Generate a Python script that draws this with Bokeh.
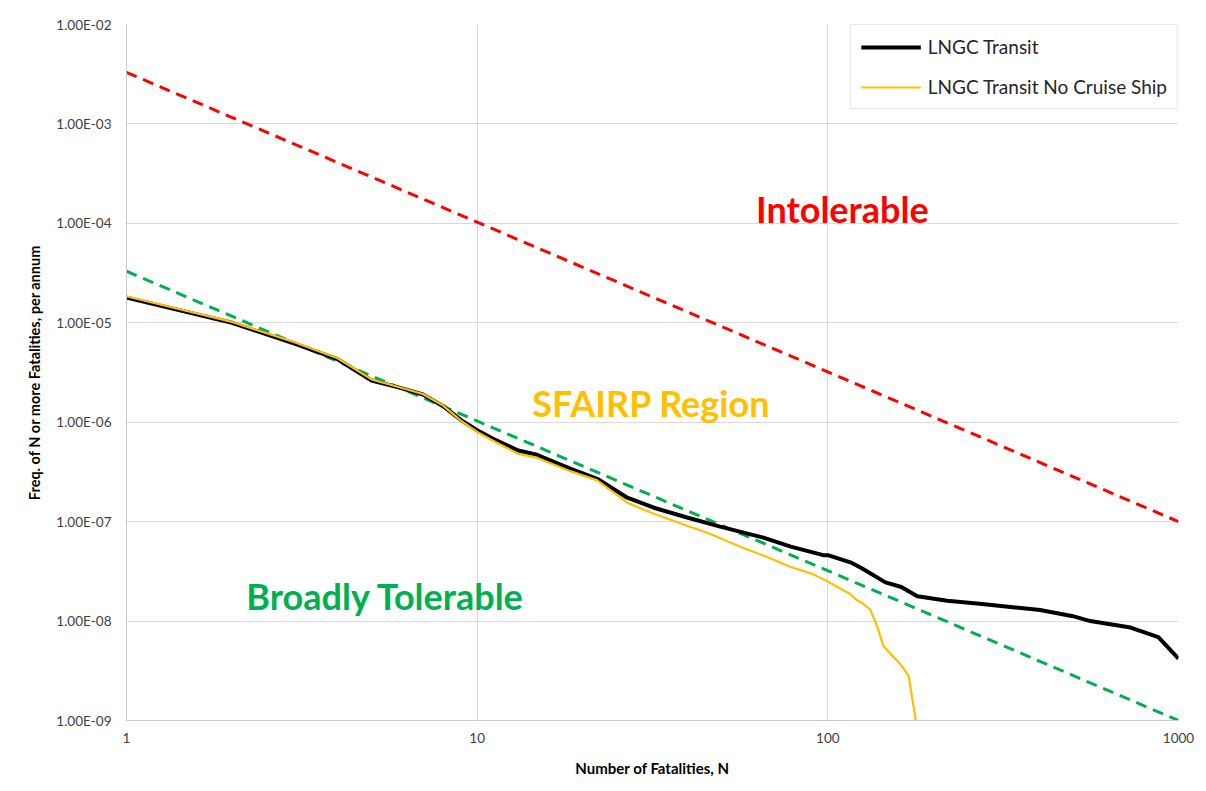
from bokeh.plotting import figure
from bokeh.models import Range1d, FixedTicker, CustomJSTickFormatter, Label, Legend, LegendItem
from bokeh.embed import file_html
from bokeh.resources import INLINE

# ---- data ----
black_n = [1, 2, 3, 4, 5, 6, 7, 8, 9, 10, 11.1, 13.1, 14.8, 18.5, 22, 26.8, 31.9, 39.7, 49.3,
           65.5, 78.4, 97, 100, 116, 125, 146, 162, 180, 219, 271, 337, 403, 500, 560, 730, 876, 1000]
black_f = [1.79e-5, 1.0e-5, 6.2e-6, 4.3e-6, 2.63e-6, 2.23e-6, 1.9e-6, 1.45e-6, 1.05e-6, 8.3e-7,
           6.8e-7, 5.2e-7, 4.7e-7, 3.4e-7, 2.7e-7, 1.74e-7, 1.38e-7, 1.1e-7, 8.9e-8, 6.9e-8, 5.6e-8,
           4.6e-8, 4.6e-8, 3.9e-8, 3.4e-8, 2.45e-8, 2.2e-8, 1.78e-8, 1.6e-8, 1.49e-8, 1.38e-8,
           1.29e-8, 1.12e-8, 1.0e-8, 8.6e-9, 6.9e-9, 4.2e-9]

yellow_n = [1, 2, 3, 4, 5, 6, 7, 8, 9, 10, 11.1, 13.1, 14.8, 18.5, 22, 26.8, 31.9, 39.7, 45.9,
            56.9, 65.3, 78.4, 90, 100, 116, 121, 126, 132, 139, 144, 150, 162, 170, 180]
yellow_f = [1.85e-5, 1.02e-5, 6.4e-6, 4.4e-6, 2.7e-6, 2.25e-6, 1.92e-6, 1.47e-6, 1.03e-6, 8.0e-7,
            6.5e-7, 4.8e-7, 4.4e-7, 3.2e-7, 2.6e-7, 1.55e-7, 1.2e-7, 9.1e-8, 7.6e-8, 5.5e-8,
            4.6e-8, 3.5e-8, 3.0e-8, 2.5e-8, 1.86e-8, 1.62e-8, 1.5e-8, 1.31e-8, 8.4e-9, 5.6e-9,
            4.8e-9, 3.6e-9, 2.8e-9, 8e-10]

red_n = [1, 1000]
red_f = [3.3e-3, 1.0e-7]
green_n = [1, 1000]
green_f = [3.3e-5, 1.0e-9]

x_ticks = [1, 10, 100, 1000]
y_ticks = [1e-9, 1e-8, 1e-7, 1e-6, 1e-5, 1e-4, 1e-3, 1e-2]

series_names = ["LNGC Transit", "LNGC Transit No Cruise Ship"]
region_labels = ["Intolerable", "SFAIRP Region", "Broadly Tolerable"]

FONT = "Lato"
GRID = "#D9D9D9"

p = figure(width=1198, height=783, x_axis_type="log", y_axis_type="log",
           x_range=Range1d(1, 1000), y_range=Range1d(1e-9, 1e-2),
           output_backend="svg", toolbar_location=None,
           min_border_left=126, min_border_right=20, min_border_top=24, min_border_bottom=63)
p.outline_line_color = None
p.background_fill_color = "white"
p.border_fill_color = "white"

# axes
p.xaxis.ticker = FixedTicker(ticks=x_ticks, minor_ticks=[])
p.yaxis.ticker = FixedTicker(ticks=y_ticks, minor_ticks=[])
p.yaxis.formatter = CustomJSTickFormatter(code="""
const s = tick.toExponential(2).toUpperCase();
const parts = s.split('E');
let e = parts[1];
const sign = e[0];
let d = e.slice(1);
if (d.length < 2) d = '0' + d;
return parts[0] + 'E' + sign + d;
""")
p.xaxis.formatter = CustomJSTickFormatter(code="return String(Math.round(tick));")
for ax in (p.xaxis, p.yaxis):
    ax.major_tick_in = 0
    ax.major_tick_out = 0
    ax.minor_tick_in = 0
    ax.minor_tick_out = 0
    ax.axis_line_color = "#C8C8C8"
    ax.axis_line_width = 1
    ax.major_label_text_font = FONT
    ax.major_label_text_font_size = "13.5px"
    ax.major_label_text_color = "#404040"
    ax.axis_label_text_font = FONT
    ax.axis_label_text_font_style = "bold"
    ax.axis_label_text_color = "black"
p.xaxis.axis_label_text_font_size = "15px"
p.yaxis.axis_label_text_font_size = "14.5px"
p.yaxis.major_label_standoff = 15
p.xaxis.major_label_standoff = 12
p.xaxis.axis_label = "Number of Fatalities, N"
p.yaxis.axis_label = "Freq. of N or more Fatalities, per annum"
p.xaxis.axis_label_standoff = 13
p.yaxis.axis_label_standoff = 10

p.xgrid.grid_line_color = GRID
p.ygrid.grid_line_color = GRID
p.xgrid.grid_line_width = 1
p.ygrid.grid_line_width = 1

# criteria lines
p.line(red_n, red_f, line_color="#FF0000", line_width=3, line_dash="11 7")
p.line(green_n, green_f, line_color="#00B050", line_width=3, line_dash="11 7")

# data series
r_black = p.line(black_n, black_f, line_color="black", line_width=4)
r_yellow = p.line(yellow_n, yellow_f, line_color="#FFC000", line_width=2.2)

legend = Legend(items=[LegendItem(label=series_names[0], renderers=[r_black]),
                       LegendItem(label=series_names[1], renderers=[r_yellow])],
                location="top_right")
legend.margin = 0
legend.padding = 10
legend.spacing = 17
legend.glyph_width = 60
legend.glyph_height = 22
legend.label_height = 22
legend.label_standoff = 7
legend.label_text_font = FONT
legend.label_text_font_size = "19px"
legend.label_text_color = "#262626"
legend.border_line_color = "#CFCFCF"
legend.border_line_width = 1
legend.background_fill_color = "white"
legend.background_fill_alpha = 1.0
p.add_layout(legend)

# region labels
p.add_layout(Label(x=110, y=1.38e-4, text=region_labels[0], text_color="#FF0000",
                   text_font=FONT, text_font_style="bold", text_font_size="36px",
                   text_align="center", text_baseline="middle"))
p.add_layout(Label(x=31.4, y=1.57e-6, text=region_labels[1], text_color="#FFC000",
                   text_font=FONT, text_font_style="bold", text_font_size="36px",
                   text_align="center", text_baseline="middle"))
p.add_layout(Label(x=5.48, y=1.8e-8, text=region_labels[2], text_color="#00B050",
                   text_font=FONT, text_font_style="bold", text_font_size="36px",
                   text_align="center", text_baseline="middle"))

open("out.html", "w").write(file_html(p, INLINE))
